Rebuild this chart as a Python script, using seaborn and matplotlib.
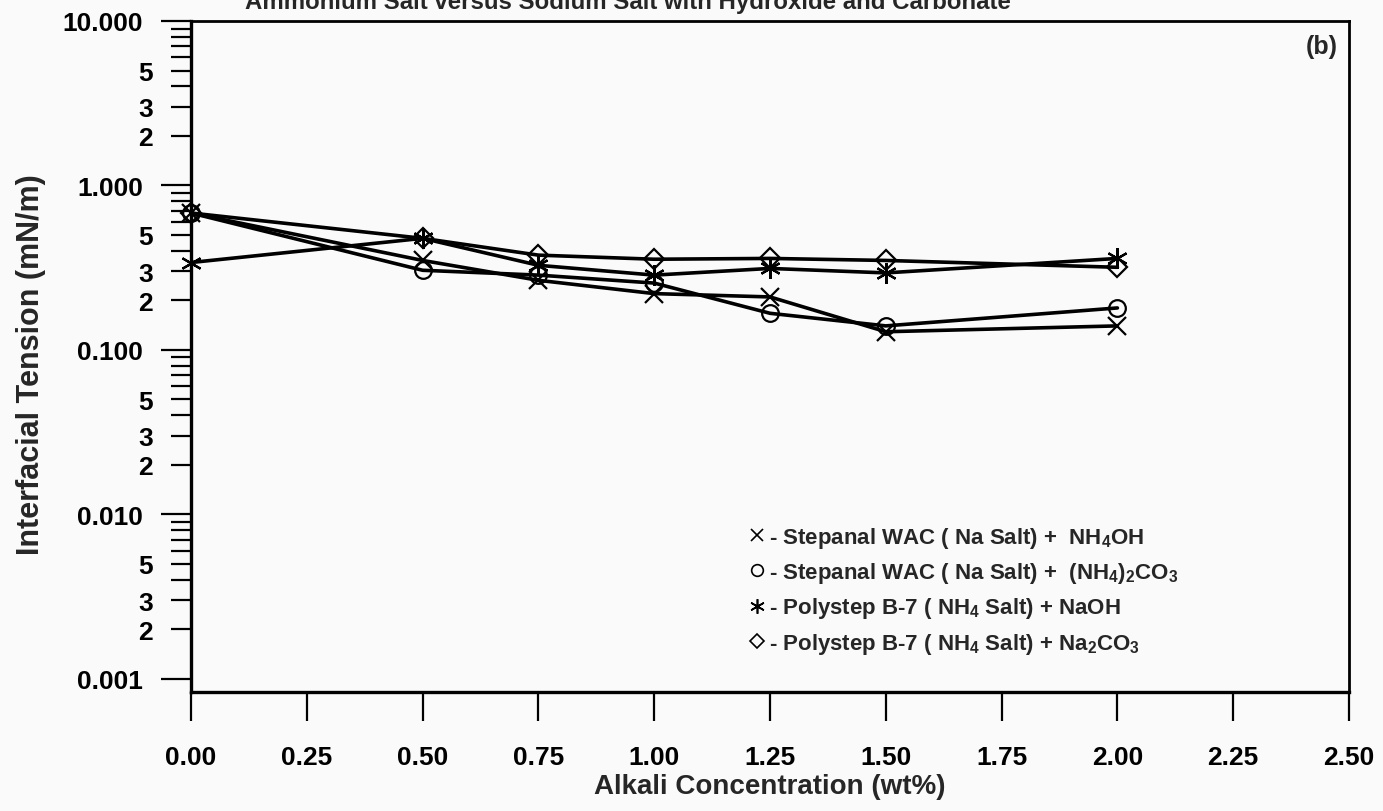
import numpy as np
import pandas as pd
import matplotlib
matplotlib.use("Agg")
import matplotlib.pyplot as plt
from matplotlib.lines import Line2D
from matplotlib.ticker import FixedLocator, FixedFormatter
import seaborn as sns

# ---- data ----
conc = [0.0, 0.5, 0.75, 1.0, 1.25, 1.5, 2.0]
ift_wac_nh4oh = [0.68, 0.35, 0.265, 0.22, 0.21, 0.129, 0.14]
ift_wac_nh4co3 = [0.68, 0.305, 0.285, 0.255, 0.167, 0.14, 0.18]
ift_b7_naoh = [0.34, 0.477, 0.327, 0.285, 0.313, 0.294, 0.36]
ift_b7_na2co3 = [0.68, 0.477, 0.377, 0.356, 0.36, 0.35, 0.318]

series_labels = [
    r"- Stepanal WAC ( Na Salt) +  NH$_4$OH",
    r"- Stepanal WAC ( Na Salt) +  (NH$_4$)$_2$CO$_3$",
    r"- Polystep B-7 ( NH$_4$ Salt) + NaOH",
    r"- Polystep B-7 ( NH$_4$ Salt) + Na$_2$CO$_3$",
]
major_vals = [0.001, 0.01, 0.1, 1.0, 10.0]
major_labels = ["0.001", "0.010", "0.100", "1.000", "10.000"]
x_ticks = [0.0, 0.25, 0.5, 0.75, 1.0, 1.25, 1.5, 1.75, 2.0, 2.25, 2.5]
x_ticklabels = ["0.00", "0.25", "0.50", "0.75", "1.00", "1.25", "1.50", "1.75", "2.00", "2.25", "2.50"]

sns.set_theme(style="white")
plt.rcParams["font.family"] = ["Liberation Sans", "DejaVu Sans"]
plt.rcParams["font.weight"] = "bold"
plt.rcParams["mathtext.fontset"] = "custom"
plt.rcParams["mathtext.rm"] = "Liberation Sans:bold"
plt.rcParams["mathtext.it"] = "Liberation Sans:bold"
plt.rcParams["mathtext.bf"] = "Liberation Sans:bold"
plt.rcParams["mathtext.default"] = "rm"

bg = "#fafafa"
fig = plt.figure(figsize=(13.83, 8.12), dpi=100, facecolor=bg)
ax = fig.add_axes([191/1383, 1-693/812, (1349-191)/1383, (693-22)/812])
ax.set_facecolor(bg)

markers = ["x", "o", (6, 2, 0), "D"]
msizes = [13, 12, 15, 10]
all_y = [ift_wac_nh4oh, ift_wac_nh4co3, ift_b7_naoh, ift_b7_na2co3]
for yv, m, ms in zip(all_y, markers, msizes):
    df = pd.DataFrame({"x": conc, "y": yv})
    sns.lineplot(data=df, x="x", y="y", ax=ax, color="black", linewidth=2.6,
                 marker=m, markersize=ms, markerfacecolor="none",
                 markeredgecolor="black", markeredgewidth=1.6,
                 clip_on=False, legend=False, errorbar=None)

ax.set_yscale("log")
ax.set_xlim(0, 2.5)
ax.set_ylim(10**-3.08, 10.0)

ax.yaxis.set_major_locator(FixedLocator(major_vals))
ax.yaxis.set_major_formatter(FixedFormatter(major_labels))
minor_vals, minor_labels = [], []
for dec in [0.001, 0.01, 0.1, 1.0]:
    for k in range(2, 10):
        minor_vals.append(k * dec)
        minor_labels.append(str(k) if k in (2, 3, 5) else "")
ax.yaxis.set_minor_locator(FixedLocator(minor_vals))
ax.yaxis.set_minor_formatter(FixedFormatter(minor_labels))

ax.set_xticks(x_ticks)
ax.set_xticklabels(x_ticklabels)

ax.tick_params(axis="y", which="major", direction="out", length=21.6, width=1.6,
               labelsize=19, pad=13, colors="black", left=True)
ax.tick_params(axis="y", which="minor", direction="out", length=14.4, width=1.6,
               labelsize=19, pad=13, colors="black", left=True)
ax.tick_params(axis="x", which="major", direction="out", length=21, width=1.6,
               labelsize=19, pad=17, colors="black", bottom=True)
for lab in ax.get_xticklabels() + ax.get_yticklabels() + ax.get_yticklabels(minor=True):
    lab.set_fontweight("bold")

for s in ["left", "bottom"]:
    ax.spines[s].set_linewidth(2.4)
for s in ["top", "right"]:
    ax.spines[s].set_linewidth(2.0)
for s in ax.spines.values():
    s.set_color("black")
    s.set_visible(True)

ax.set_xlabel("Alkali Concentration (wt%)", fontsize=20, fontweight="bold")
ax.set_ylabel("Interfacial Tension (mN/m)", fontsize=22, fontweight="bold")
ax.xaxis.set_label_coords(0.5, -0.12)
ax.yaxis.set_label_coords(-0.125, 0.49)

ax.text(0.99, 0.963, "(b)", transform=ax.transAxes, ha="right", va="center",
        fontsize=18, fontweight="bold")

fig.text(628/1383, 1 - 9/812, "Ammonium Salt versus Sodium Salt with Hydroxide and Carbonate",
         ha="center", va="baseline", fontsize=17.3, fontweight="bold")

handles = [Line2D([], [], linestyle="none", marker=m, markersize=ms*0.7,
                  markerfacecolor="none", markeredgecolor="black", markeredgewidth=1.2)
           for m, ms in zip(markers, msizes)]
leg = ax.legend(handles, series_labels, loc="upper left",
                bbox_to_anchor=((748-191)/1158, (693-526)/671),
                frameon=False, handlelength=0.8, handletextpad=0.15,
                labelspacing=0.46, borderpad=0, borderaxespad=0,
                prop={"family": ["Liberation Sans", "DejaVu Sans"],
                      "weight": "bold", "size": 16})

fig.savefig("out.png", dpi=100, facecolor=bg)
